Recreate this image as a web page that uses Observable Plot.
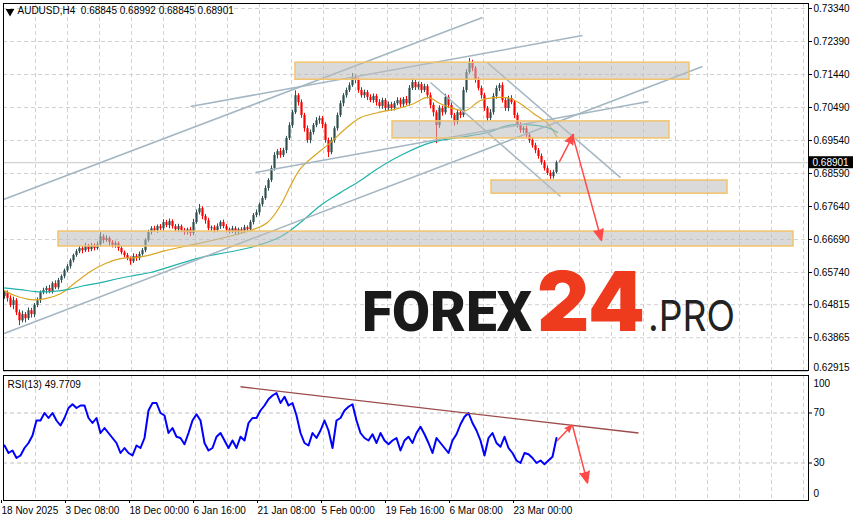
<!DOCTYPE html>
<html><head><meta charset="utf-8">
<script src="https://cdn.jsdelivr.net/npm/d3@7"></script>
<script src="https://cdn.jsdelivr.net/npm/@observablehq/plot@0.6"></script>
<style>
html,body{margin:0;padding:0;background:#fff;}
#wrap{position:relative;width:854px;height:521px;overflow:hidden;background:#fff;font-family:"Liberation Sans",Arial,sans-serif;}
#main{position:absolute;left:0;top:0;}
#rsi{position:absolute;left:0;top:372px;}
#wm{position:absolute;left:0;top:0;pointer-events:none;}
</style></head><body>
<div id="wrap"><div id="main"></div><div id="rsi"></div>
<svg id="wm" width="854" height="521" xmlns="http://www.w3.org/2000/svg">
  <text y="331" font-family="Roboto, Inter, 'Liberation Sans', sans-serif"><tspan x="362" font-size="55" font-weight="900" fill="#1a1a1a" textLength="170" lengthAdjust="spacingAndGlyphs">FOREX</tspan><tspan x="537" font-family="Inter, Roboto, sans-serif" font-size="82" font-weight="900" fill="#ee3b1e" textLength="108" lengthAdjust="spacingAndGlyphs">24</tspan><tspan x="648" font-family="Inter, Roboto, sans-serif" font-size="43" font-weight="400" fill="#222" textLength="87" lengthAdjust="spacingAndGlyphs">.PRO</tspan></text>
</svg>
</div>
<script>
// ---------- data ----------
const titleText = "AUDUSD,H4  0.68845 0.68992 0.68845 0.68901";
const rsiTitle = "RSI(13) 49.7709";
const lastClose = 0.68901;
const firstOpen = 0.6505;
// H4 closes, one value per 3 bars
const closes = [
0.6516,0.6499,0.6479,0.6493,0.6458,0.6435,0.6453,0.6441,0.6464,0.6453,
0.6479,0.6493,0.6516,0.6522,0.6528,0.6519,0.6542,0.6530,0.6551,0.6562,
0.6579,0.6591,0.6608,0.6623,0.6634,0.6643,0.6637,0.6649,0.6640,0.6651,
0.6643,0.6654,0.6677,0.6666,0.6672,0.6660,0.6651,0.6657,0.6643,0.6631,
0.6623,0.6614,0.6605,0.6620,0.6614,0.6626,0.6637,0.6666,0.6689,0.6700,
0.6695,0.6706,0.6700,0.6718,0.6709,0.6721,0.6706,0.6697,0.6706,0.6695,
0.6689,0.6697,0.6686,0.6718,0.6746,0.6758,0.6735,0.6723,0.6700,0.6703,
0.6695,0.6706,0.6718,0.6706,0.6697,0.6692,0.6700,0.6689,0.6697,0.6692,
0.6703,0.6697,0.6718,0.6738,0.6746,0.6769,0.6787,0.6816,0.6839,0.6873,
0.6911,0.6922,0.6911,0.6925,0.6960,0.6997,0.7034,0.7083,0.7063,0.7026,
0.6988,0.6954,0.6977,0.6997,0.7011,0.7017,0.7000,0.6954,0.6919,0.6954,
0.6988,0.7026,0.7060,0.7083,0.7098,0.7112,0.7135,0.7127,0.7098,0.7083,
0.7092,0.7078,0.7069,0.7081,0.7063,0.7052,0.7069,0.7046,0.7057,0.7046,
0.7060,0.7069,0.7057,0.7072,0.7060,0.7104,0.7121,0.7106,0.7115,0.7098,
0.7109,0.7083,0.7055,0.7034,0.6997,0.7046,0.7034,0.7078,0.7055,0.7026,
0.7006,0.7034,0.7026,0.7098,0.7150,0.7178,0.7161,0.7127,0.7104,0.7083,
0.7046,0.7017,0.7034,0.7081,0.7104,0.7112,0.7069,0.7046,0.7075,0.7063,
0.7026,0.6997,0.6983,0.6988,0.6968,0.6954,0.6939,0.6925,0.6908,0.6890,
0.6873,0.6859,0.6850,0.6862,0.6890];
// upper / lower wick beyond the body, in pips
const wickUpPips = [
6,5,8,10,6,8,10,6,8,7, 6,8,5,7,6,9,5,8,6,5, 5,6,5,4,6,8,5,9,6,7, 6,8,12,6,8,5,6,7,5,6,
5,6,5,8,6,7,6,5,7,6, 7,5,6,8,6,7,5,6,7,5, 6,5,7,9,8,12,5,6,7,5, 6,8,5,7,6,5,7,6,5,6,
7,5,6,6,8,5,6,7,5,8, 8,6,9,7,6,8,7,14,6,8, 6,8,7,6,9,7,6,5,7,8, 6,7,8,6,7,8,12,7,6,8,
7,6,8,7,6,9,7,6,8,7, 6,8,7,6,9,8,10,6,7,6, 7,6,8,7,6,8,7,9,6,7, 6,8,7,9,8,12,7,6,8,7,
7,6,9,8,7,6,8,7,6,8, 6,7,8,6,7,6,8,7,6,7, 6,7,8,6,5];
const wickDownPips = [
8,10,6,12,8,14,6,12,5,10, 9,6,8,6,10,6,7,5,6,8, 6,5,7,6,5,6,9,5,8,6, 7,5,6,9,5,10,6,7,8,6,
7,6,10,5,8,6,5,6,5,7, 6,8,5,7,6,9,7,6,8,6, 8,7,9,6,5,6,9,10,6,8, 7,5,8,6,9,7,6,8,7,6,
6,8,5,7,6,9,6,5,8,6, 7,10,8,6,9,6,8,5,10,8, 10,8,9,7,6,10,12,8,14,6, 8,7,6,9,7,6,5,9,8,7,
8,9,6,8,10,7,8,9,7,8, 7,6,9,8,6,7,6,8,7,9, 6,9,10,12,52,8,10,6,9,8, 10,7,9,6,7,6,9,8,7,10,
8,10,6,7,8,9,7,8,9,6, 9,7,8,9,6,8,7,9,8,7, 7,6,8,7,4];
// moving averages (bar index, price)
const maFastBar = [1,12,27,42,57,72,87,102,117,132,147,162,184,217,247,264,277,287,297,312,327,342,357,374,394,410,424,437,450,462,477,494,507,517,530,544,554];
const maFastVal = [0.6522,0.6507,0.6496,0.6499,0.6513,0.6545,0.6577,0.6600,0.6614,0.6617,0.6625,0.6637,0.6651,0.6672,0.6695,0.6718,0.6767,0.6824,0.6873,0.6913,0.6948,0.6988,0.7020,0.7034,0.7046,0.7060,0.7078,0.7060,0.7046,0.7040,0.7069,0.7078,0.7075,0.7060,0.7032,0.7003,0.6962];
const maSlowBar = [0,17,32,47,64,80,97,114,130,147,197,247,277,297,317,337,357,374,397,427,454,484,504,524,544,554];
const maSlowVal = [0.6530,0.6525,0.6519,0.6519,0.6525,0.6536,0.6545,0.6556,0.6565,0.6574,0.6617,0.6646,0.6677,0.6718,0.6767,0.6804,0.6839,0.6873,0.6911,0.6948,0.6962,0.6977,0.6997,0.7000,0.6991,0.6977];
// RSI(13), one value per 4 bars
const rsiValues = [
44,38,40,34,36,42,46,52,64,64,70,66,70,64,60,66,74,77,74,76,
76,66,62,66,54,58,54,50,46,38,42,38,36,44,42,50,72,78,78,70,
68,54,58,51,50,45,54,64,69,64,46,40,42,51,54,48,42,48,42,51,
48,62,66,66,72,76,81,84,86,78,83,76,78,68,54,46,44,54,50,56,
64,56,42,64,66,72,75,77,64,54,50,48,53,46,54,48,45,48,50,40,
48,51,46,54,59,53,46,38,50,46,42,38,48,53,61,67,70,62,56,48,
36,50,54,46,43,51,42,38,32,30,38,37,34,30,32,29,32,35,50];
// support / resistance zones
const zoneStart = [292,389,488,55];
const zoneEnd = [686,666,724,790];
const zoneTop = [0.7178,0.7009,0.6839,0.6692];
const zoneBottom = [0.7129,0.6960,0.6801,0.6649];
// trend lines
const trendBar1 = [0,187,252,0,484,427];
const trendP1 = [0.6784,0.7052,0.6862,0.6398,0.7178,0.7121];
const trendBar2 = [479,579,645,699,617,557];
const trendP2 = [0.7308,0.7256,0.7066,0.7167,0.6847,0.6793];
// forecast arrows (price panel)
const arrBar1 = [556,569], arrP1 = [0.6893,0.6971], arrBar2 = [570,598], arrP2 = [0.6971,0.6666];
// RSI trend line and arrows
const rsiTrendBar = [237,635], rsiTrendVal = [91,54];
const rArrBar1 = [554,569], rArrV1 = [48,60], rArrBar2 = [568,584], rArrV2 = [60,14];
// axes
const priceTicks = [0.73340,0.72390,0.71440,0.70490,0.69540,0.68590,0.67640,0.66690,0.65740,0.64815,0.63865,0.62915];
const dateBars = [0,64,128,192,256,320,384,448,512];
const dateLabels = ["18 Nov 2025","3 Dec 08:00","18 Dec 00:00","6 Jan 16:00","21 Jan 08:00","5 Feb 00:00","19 Feb 16:00","6 Mar 08:00","23 Mar 00:00"];
const rsiLevels = [70,30];

// ---------- build ----------
const FONT = "'Liberation Sans', Arial, sans-serif";
const bull = "#2f4f4f", bear = "#ff0000";
const gridColor = "#d2d2d2";
const lineColor = "#a3b6c2";
const red = "#ff4a4a";
const gridBars = d3.range(32, 805, 32);
const pip = 0.0001;

const candles = closes.map((c, i) => {
  const open = i ? closes[i - 1] : firstOpen;
  return {bar: 1 + 3 * i, open, close: c,
    high: Math.max(open, c) + wickUpPips[i] * pip,
    low: Math.min(open, c) - wickDownPips[i] * pip};
});
const maFast = maFastBar.map((b, i) => ({bar: b, v: maFastVal[i]}));
const maSlow = maSlowBar.map((b, i) => ({bar: b, v: maSlowVal[i]}));
const zones = zoneStart.map((s, i) => ({x1: s, x2: zoneEnd[i], y1: zoneBottom[i], y2: zoneTop[i]}));
const trends = trendBar1.map((b, i) => ({x1: b, y1: trendP1[i], x2: trendBar2[i], y2: trendP2[i]}));
const arrows = arrBar1.map((b, i) => ({x1: b, y1: arrP1[i], x2: arrBar2[i], y2: arrP2[i]}));
const rsi = rsiValues.map((v, i) => ({bar: 1 + 4 * i, v}));
const rsiArrows = rArrBar1.map((b, i) => ({x1: b, y1: rArrV1[i], x2: rArrBar2[i], y2: rArrV2[i]}));
const candleColor = d => d.close >= d.open ? bull : bear;

const priceLabelBox = (index, scales, values, dims) => {
  const y = scales.y(lastClose);
  const r = document.createElementNS("http://www.w3.org/2000/svg", "rect");
  r.setAttribute("x", dims.width - dims.marginRight + 1);
  r.setAttribute("y", y - 6);
  r.setAttribute("width", 44);
  r.setAttribute("height", 12);
  r.setAttribute("fill", "black");
  return r;
};

const main = Plot.plot({
  width: 854, height: 372,
  marginLeft: 3, marginRight: 46, marginTop: 3, marginBottom: 2,
  x: {domain: [0, 805], axis: null},
  y: {domain: [0.6292, 0.73484], axis: null},
  color: {type: "identity"},
  style: {fontFamily: FONT, fontSize: "10px", background: "white", color: "black"},
  marks: [
    Plot.ruleY(priceTicks, {stroke: gridColor, strokeDasharray: "4,3"}),
    Plot.ruleX(gridBars, {stroke: gridColor, strokeDasharray: "4,3"}),
    Plot.ruleY([lastClose], {stroke: "#c8c8c8"}),
    Plot.ruleX(candles, {x: "bar", y1: "low", y2: "high", stroke: candleColor, strokeWidth: 1}),
    Plot.ruleX(candles, {x: "bar", y1: "open", y2: "close", stroke: candleColor, strokeWidth: 2.2}),
    Plot.line(maFast, {x: "bar", y: "v", stroke: "#daa520", strokeWidth: 1.2, curve: "catmull-rom"}),
    Plot.line(maSlow, {x: "bar", y: "v", stroke: "#20b2aa", strokeWidth: 1.2, curve: "catmull-rom"}),
    Plot.link(trends, {x1: "x1", y1: "y1", x2: "x2", y2: "y2", stroke: lineColor, strokeWidth: 1.5}),
    Plot.rect(zones, {x1: "x1", x2: "x2", y1: "y1", y2: "y2", fill: "#bcbcbc", fillOpacity: 0.55, stroke: "#f2c36b", strokeWidth: 1.5}),
    Plot.arrow(arrows, {x1: "x1", y1: "y1", x2: "x2", y2: "y2", stroke: red, fill: red, strokeWidth: 1.5, headLength: 12, headAngle: 45}),
    Plot.frame({stroke: "black"}),
    Plot.axisY(priceTicks.slice(0, -1), {anchor: "right", tickSize: 3, tickPadding: 2, tickFormat: d3.format(".5f"), label: null, fontSize: 10}),
    Plot.tickY(priceTicks.slice(-1), {frameAnchor: "right", stroke: "black"}),
    Plot.text(priceTicks.slice(-1), {y: d => d, text: d => d3.format(".5f")(d), frameAnchor: "right", dx: 5, dy: -3, textAnchor: "start", fontSize: 10}),
    priceLabelBox,
    Plot.text([lastClose], {y: d => d, text: d => d3.format(".5f")(d), frameAnchor: "right", dx: 4, textAnchor: "start", fill: "white", fontSize: 10}),
    Plot.dot([0], {frameAnchor: "top-left", dx: 6.5, dy: 8, symbol: "triangle", r: 3.2, fill: "black", stroke: null, rotate: 180}),
    Plot.text([titleText], {frameAnchor: "top-left", text: d => d, dx: 14, dy: 3, lineAnchor: "top", textAnchor: "start", fontSize: 10, fill: "black"})
  ]
});
document.getElementById("main").appendChild(main);

const rsiPlot = Plot.plot({
  width: 854, height: 149,
  marginLeft: 3, marginRight: 46, marginTop: 3, marginBottom: 21,
  x: {domain: [0, 805], axis: null},
  y: {domain: [0, 100], axis: null},
  style: {fontFamily: FONT, fontSize: "10px", background: "white", color: "black"},
  marks: [
    Plot.ruleY(rsiLevels, {stroke: "#c0c0c0", strokeDasharray: "4,3"}),
    Plot.ruleX(gridBars, {stroke: gridColor, strokeDasharray: "4,3"}),
    Plot.line(rsi, {x: "bar", y: "v", stroke: "#0000ff", strokeWidth: 2}),
    Plot.link([0], {x1: () => rsiTrendBar[0], y1: () => rsiTrendVal[0], x2: () => rsiTrendBar[1], y2: () => rsiTrendVal[1], stroke: "#9d4b4b", strokeWidth: 1.3}),
    Plot.arrow(rsiArrows, {x1: "x1", y1: "y1", x2: "x2", y2: "y2", stroke: red, fill: red, strokeWidth: 1.5, headLength: 12, headAngle: 45}),
    Plot.frame({stroke: "black"}),
    Plot.axisX(dateBars, {anchor: "bottom", tickSize: 3, tickPadding: 3, tickFormat: d => dateLabels[dateBars.indexOf(d)], textAnchor: "start", dx: -2, label: null, fontSize: 10}),
    Plot.axisY(rsiLevels, {anchor: "right", tickSize: 3, tickPadding: 2, label: null, fontSize: 10}),
    Plot.text([100], {y: d => d, text: d => String(d), frameAnchor: "right", dx: 5, dy: 8, textAnchor: "start", fontSize: 10}),
    Plot.text([0], {y: d => d, text: d => String(d), frameAnchor: "right", dx: 5, dy: -7, textAnchor: "start", fontSize: 10}),
    Plot.text([rsiTitle], {frameAnchor: "top-left", text: d => d, dx: 4, dy: 5, lineAnchor: "top", textAnchor: "start", fontSize: 10, fill: "black"})
  ]
});
document.getElementById("rsi").appendChild(rsiPlot);
</script>
</body></html>
